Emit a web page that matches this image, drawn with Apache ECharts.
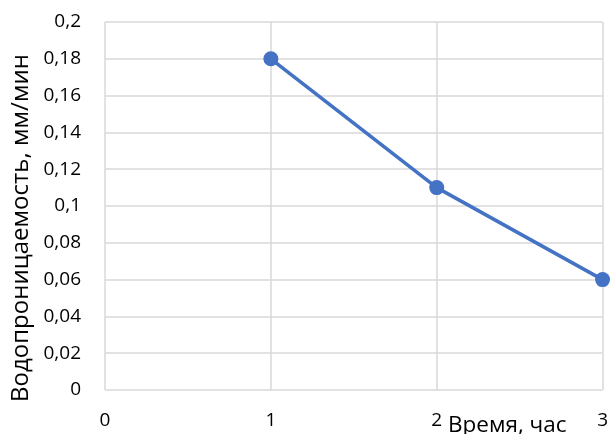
<!DOCTYPE html>
<html>
<head>
<meta charset="utf-8">
<script src="https://cdn.jsdelivr.net/npm/echarts@6/dist/echarts.min.js"></script>
<style>
html,body{margin:0;padding:0;background:#fff;}
#chart{width:611px;height:434px;}
</style>
</head>
<body>
<div id="chart"></div>
<script>
// Water permeability over time
const hours = [1, 2, 3];
const permeability = [0.18, 0.11, 0.06];
const yAxisTitle = 'Водопроницаемость, мм/мин';
const xAxisTitle = 'Время, час';

const chart = echarts.init(document.getElementById('chart'), null, {renderer: 'canvas'});
const font = '"Open Sans", "Liberation Sans", sans-serif';
const gridColor = '#d9d9d9';

chart.setOption({
  animation: false,
  backgroundColor: '#ffffff',
  grid: {left: 105, right: 7, top: 22, bottom: 44, containLabel: false},
  xAxis: {
    type: 'value',
    min: 0, max: 3, interval: 1,
    axisLine: {show: false},
    axisTick: {show: false},
    splitLine: {show: true, lineStyle: {color: gridColor, width: 1.5}},
    axisLabel: {
      margin: 21, color: '#000', fontFamily: font, fontSize: 19,
      formatter: v => String(v)
    }
  },
  yAxis: {
    type: 'value',
    min: 0, max: 0.2, interval: 0.02,
    axisLine: {show: false},
    axisTick: {show: false},
    splitLine: {show: true, lineStyle: {color: gridColor, width: 1.5}},
    axisLabel: {
      margin: 24, color: '#000', fontFamily: font, fontSize: 19,
      formatter: v => String(Math.round(v * 100) / 100).replace('.', ',')
    }
  },
  graphic: [{
    type: 'text',
    x: 21, y: 228,
    rotation: Math.PI / 2,
    style: {
      text: yAxisTitle, fill: '#000', font: '24px ' + font,
      align: 'center', verticalAlign: 'middle'
    }
  }, {
    type: 'text',
    left: 448, top: 414,
    style: {text: xAxisTitle, fill: '#000', font: '22.5px ' + font}
  }],
  series: [{
    type: 'line',
    data: hours.map((h, i) => [h, permeability[i]]),
    symbol: 'circle',
    symbolSize: 15,
    lineStyle: {color: '#4472C4', width: 3.5},
    itemStyle: {color: '#4472C4'},
    clip: false
  }]
});
</script>
</body>
</html>
